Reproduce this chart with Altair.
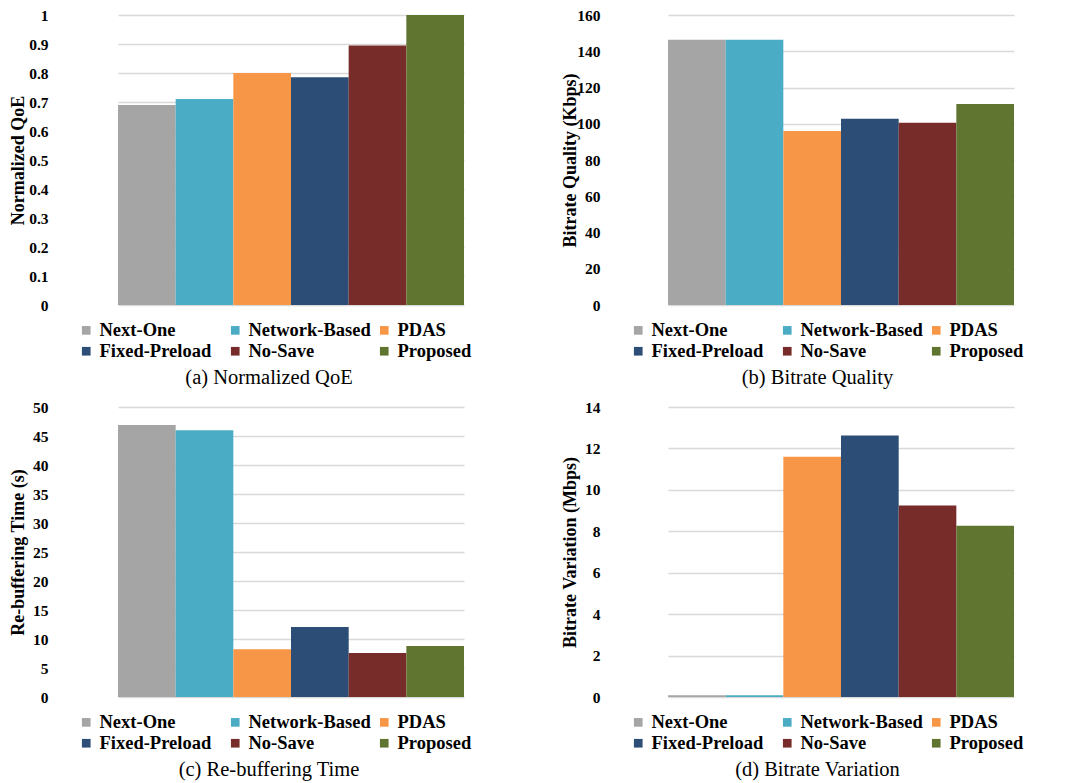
import altair as alt
import pandas as pd

methods = ["Next-One", "Network-Based", "PDAS", "Fixed-Preload", "No-Save", "Proposed"]
colors = ["#A5A5A5", "#4BACC6", "#F79646", "#2C4D75", "#772C2A", "#5F7530"]

qoe = [0.69, 0.71, 0.80, 0.785, 0.895, 1.0]
bitrate_quality = [146.4, 146.4, 96.0, 102.8, 100.6, 110.9]
rebuffering = [46.9, 46.0, 8.25, 12.05, 7.6, 8.8]
bitrate_variation = [0.08, 0.08, 11.6, 12.62, 9.25, 8.27]

qoe_ticks = [0, 0.1, 0.2, 0.3, 0.4, 0.5, 0.6, 0.7, 0.8, 0.9, 1]
bitrate_ticks = [0, 20, 40, 60, 80, 100, 120, 140, 160]
rebuf_ticks = [0, 5, 10, 15, 20, 25, 30, 35, 40, 45, 50]
variation_ticks = [0, 2, 4, 6, 8, 10, 12, 14]

SERIF = "Liberation Serif"
H = 290


def make_panel(values, ytitle, ymax, ticks, caption, width, bar_range, caption_dx):
    df = pd.DataFrame({"method": methods, "value": values})
    return alt.Chart(df).mark_bar().encode(
        x=alt.X("method:N", sort=methods, axis=None,
                scale=alt.Scale(paddingInner=0, paddingOuter=0, range=bar_range)),
        y=alt.Y("value:Q",
                scale=alt.Scale(domain=[0, ymax], nice=False, zero=True),
                axis=alt.Axis(values=ticks, labelExpr="'' + datum.value", title=ytitle,
                              grid=True, gridColor="#D9D9D9", gridWidth=1.5, domain=False,
                              ticks=False, tickSize=0, labelPadding=15,
                              labelFont=SERIF, labelFontSize=15.5, labelFontWeight="bold",
                              labelColor="black", titleFont=SERIF, titleFontSize=18,
                              titleFontWeight="bold", titleColor="black",
                              titleX=-45, titleY=H / 2, titleAngle=270,
                              titleAlign="center", titleBaseline="middle")),
        color=alt.Color("method:N", sort=methods,
                        scale=alt.Scale(domain=methods, range=colors),
                        legend=alt.Legend(orient="none", legendX=14, legendY=306,
                                          columns=3, direction="horizontal", title=None,
                                          gridAlign="all",
                                          symbolType="square", symbolSize=75,
                                          symbolStrokeWidth=0, symbolOpacity=1,
                                          labelFont=SERIF, labelFontSize=18.5,
                                          labelFontWeight="bold", labelColor="black",
                                          labelOffset=4, columnPadding=4, rowPadding=2,
                                          labelLimit=300)),
    ).properties(
        width=width, height=H,
        title=alt.TitleParams(caption, orient="bottom", frame="group", anchor="middle",
                              offset=7, dx=caption_dx, font=SERIF, fontSize=20.5,
                              fontWeight="normal", color="black"),
    )


a = make_panel(qoe, "Normalized QoE", 1, qoe_ticks, "(a) Normalized QoE", 474, [55, 401], -31)
b = make_panel(bitrate_quality, "Bitrate Quality (Kbps)", 160, bitrate_ticks,
               "(b) Bitrate Quality", 457, [53, 399], -26)
c = make_panel(rebuffering, "Re-buffering Time (s)", 50, rebuf_ticks,
               "(c) Re-buffering Time", 474, [55, 401], -31)
d = make_panel(bitrate_variation, "Bitrate Variation (Mbps)", 14, variation_ticks,
               "(d) Bitrate Variation", 457, [53, 399], -26)

chart = alt.concat(a, b, c, d, columns=2, spacing={"row": 102, "column": 78},
                   bounds="flush").resolve_scale(
    x="independent", y="independent", color="independent"
).properties(
    padding={"left": 1, "top": 0, "right": 0, "bottom": 0}
).configure_view(stroke=None)

chart.save("out.html", embed_options={"renderer": "svg", "actions": False})
